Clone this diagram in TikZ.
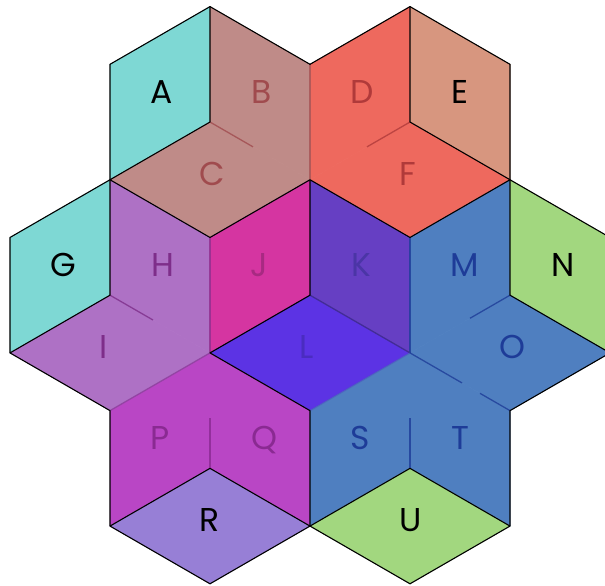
\documentclass[tikz,border=0pt]{standalone}
\usepackage{fontspec}
\setmainfont{Poppins}
\usetikzlibrary{calc}

\definecolor{cAG}{HTML}{7ED8D4}
\definecolor{cBC}{HTML}{BF8B88}
\definecolor{cDF}{HTML}{EE695E}
\definecolor{cE}{HTML}{D7967F}
\definecolor{cHI}{HTML}{AE71C5}
\definecolor{cJ}{HTML}{D535A1}
\definecolor{cK}{HTML}{663FC3}
\definecolor{cL}{HTML}{5C33E4}
\definecolor{cMOST}{HTML}{4F7FC0}
\definecolor{cNU}{HTML}{A2D77F}
\definecolor{cPQ}{HTML}{B946C5}
\definecolor{cR}{HTML}{977FD6}
% letter tints
\definecolor{tBC}{HTML}{A04B4E}
\definecolor{tDF}{HTML}{B03A3A}
\definecolor{tHI}{HTML}{7E2E8A}
\definecolor{tJ}{HTML}{A82A82}
\definecolor{tK}{HTML}{4B35A6}
\definecolor{tL}{HTML}{4A2CC0}
\definecolor{tMOST}{HTML}{1E3C98}
\definecolor{tPQ}{HTML}{8A2A92}

\begin{document}
\begin{tikzpicture}[
  x=1pt, y=1pt,
  face/.style={fill=#1, draw=#1, line width=0.5pt},
  edge/.style={draw=black, line width=1.1pt, line join=round},
  seam/.style={draw=#1, line width=1.3pt, opacity=0.8},
  lbl/.style={font=\fontsize{33}{40}\selectfont, inner sep=0pt, anchor=base west},
]
\clip (0,0) rectangle (605,586);
% ---- vertex grid ----
\foreach \i in {0,...,6}
  \foreach \j in {0,...,10}
    \coordinate (v\i-\j) at (10+100*\i, 579.4-57.72*\j);
% ---- faces ----
\path[face=cAG]   (v1-1) -- (v2-0) -- (v2-2) -- (v1-3) -- cycle; % A
\path[face=cBC]   (v2-0) -- (v3-1) -- (v3-3) -- (v2-2) -- cycle; % B
\path[face=cBC]   (v2-2) -- (v3-3) -- (v2-4) -- (v1-3) -- cycle; % C
\path[face=cDF]   (v3-1) -- (v4-0) -- (v4-2) -- (v3-3) -- cycle; % D
\path[face=cE]    (v4-0) -- (v5-1) -- (v5-3) -- (v4-2) -- cycle; % E
\path[face=cDF]   (v4-2) -- (v5-3) -- (v4-4) -- (v3-3) -- cycle; % F
\path[face=cAG]   (v0-4) -- (v1-3) -- (v1-5) -- (v0-6) -- cycle; % G
\path[face=cHI]   (v1-3) -- (v2-4) -- (v2-6) -- (v1-5) -- cycle; % H
\path[face=cHI]   (v1-5) -- (v2-6) -- (v1-7) -- (v0-6) -- cycle; % I
\path[face=cJ]    (v2-4) -- (v3-3) -- (v3-5) -- (v2-6) -- cycle; % J
\path[face=cK]    (v3-3) -- (v4-4) -- (v4-6) -- (v3-5) -- cycle; % K
\path[face=cL]    (v3-5) -- (v4-6) -- (v3-7) -- (v2-6) -- cycle; % L
\path[face=cMOST] (v4-4) -- (v5-3) -- (v5-5) -- (v4-6) -- cycle; % M
\path[face=cNU]   (v5-3) -- (v6-4) -- (v6-6) -- (v5-5) -- cycle; % N
\path[face=cMOST] (v5-5) -- (v6-6) -- (v5-7) -- (v4-6) -- cycle; % O
\path[face=cPQ]   (v1-7) -- (v2-6) -- (v2-8) -- (v1-9) -- cycle; % P
\path[face=cPQ]   (v2-6) -- (v3-7) -- (v3-9) -- (v2-8) -- cycle; % Q
\path[face=cR]    (v2-8) -- (v3-9) -- (v2-10) -- (v1-9) -- cycle; % R
\path[face=cMOST] (v3-7) -- (v4-6) -- (v4-8) -- (v3-9) -- cycle; % S
\path[face=cMOST] (v4-6) -- (v5-7) -- (v5-9) -- (v4-8) -- cycle; % T
\path[face=cNU]   (v4-8) -- (v5-9) -- (v4-10) -- (v3-9) -- cycle; % U
% ---- soft seams inside merged regions ----
\draw[seam=tBC!85!cBC] (v3-1) -- (v3-3);
\draw[seam=tBC] (v2-2) -- ($(v2-2)!0.43!(v3-3)$);
\draw[seam=tDF] (v4-2) -- ($(v4-2)!0.43!(v3-3)$);
\draw[seam=tHI!80!cJ] (v2-4) -- (v2-6);
\draw[seam=tHI] (v1-5) -- ($(v1-5)!0.43!(v2-6)$);
\draw[seam=tHI!70!cHI] (v1-7) -- (v2-6);
\draw[seam=tMOST] (v4-4) -- (v4-6);
\draw[seam=tK!80!black] (v3-5) -- (v4-6);
\draw[seam=tL!60!cMOST, opacity=0.5] (v3-7) -- (v4-6);
\draw[seam=tMOST] (v5-5) -- ($(v5-5)!0.40!(v4-6)$);
\draw[seam=tMOST] (v4-6) -- ($(v4-6)!0.52!(v5-7)$);
\draw[seam=tMOST] ($(v4-6)!0.7!(v5-7)$) -- (v5-7);
\draw[seam=tPQ] (v2-8) -- ($(v2-8)!0.44!(v2-6)$);
\draw[seam=tMOST] (v4-8) -- ($(v4-8)!0.44!(v4-6)$);
% ---- black edges ----
\draw[edge] (v1-1) -- (v2-0) -- (v3-1) -- (v4-0) -- (v5-1) -- (v5-3) -- (v6-4)
  -- (v6-6) -- (v5-7) -- (v5-9) -- (v4-10) -- (v3-9) -- (v2-10) -- (v1-9)
  -- (v1-7) -- (v0-6) -- (v0-4) -- (v1-3) -- cycle;
\draw[edge] (v2-0) -- (v2-2) -- (v1-3) -- (v2-4) -- (v3-3) -- (v4-4) -- (v5-3);
\draw[edge] (v4-0) -- (v4-2) -- (v5-3) -- (v5-5) -- (v6-6);
\draw[edge] (v1-3) -- (v1-5) -- (v0-6);
\draw[edge] (v3-3) -- (v3-5) -- (v2-6) -- (v3-7) -- (v3-9);
\draw[edge] (v1-9) -- (v2-8) -- (v3-9) -- (v4-8) -- (v5-9);
% ---- letters ----
\node[lbl]              (A) at ($(v2-2)+(-60,18.5)$) {A};
\node[lbl, text=tBC]    (B) at ($(v2-2)+(41,18.5)$)  {B};
\node[lbl, text=tBC]    (C) at ($(v2-2)+(-10.5,-63)$) {C};
\node[lbl, text=tDF]    (D) at ($(v4-2)+(-60,18.5)$) {D};
\node[lbl]              (E) at ($(v4-2)+(41,18.5)$)  {E};
\node[lbl, text=tDF]    (F) at ($(v4-2)+(-10.5,-63)$) {F};
\node[lbl]              (G) at ($(v1-5)+(-60,18.5)$) {G};
\node[lbl, text=tHI]    (H) at ($(v1-5)+(41,18.5)$)  {H};
\node[lbl, text=tHI]    (I) at ($(v1-5)+(-10.5,-63)$) {I};
\node[lbl, text=tJ]     (J) at ($(v3-5)+(-60,18.5)$) {J};
\node[lbl, text=tK]     (K) at ($(v3-5)+(41,18.5)$)  {K};
\node[lbl, text=tL]     (L) at ($(v3-5)+(-10.5,-63)$) {L};
\node[lbl, text=tMOST]  (M) at ($(v5-5)+(-60,18.5)$) {M};
\node[lbl]              (N) at ($(v5-5)+(41,18.5)$)  {N};
\node[lbl, text=tMOST]  (O) at ($(v5-5)+(-10.5,-63)$) {O};
\node[lbl, text=tPQ]    (P) at ($(v2-8)+(-60,18.5)$) {P};
\node[lbl, text=tPQ]    (Q) at ($(v2-8)+(41,18.5)$)  {Q};
\node[lbl]              (R) at ($(v2-8)+(-10.5,-63)$) {R};
\node[lbl, text=tMOST]  (S) at ($(v4-8)+(-60,18.5)$) {S};
\node[lbl, text=tMOST]  (T) at ($(v4-8)+(41,18.5)$)  {T};
\node[lbl]              (U) at ($(v4-8)+(-10.5,-63)$) {U};
\end{tikzpicture}
\end{document}
